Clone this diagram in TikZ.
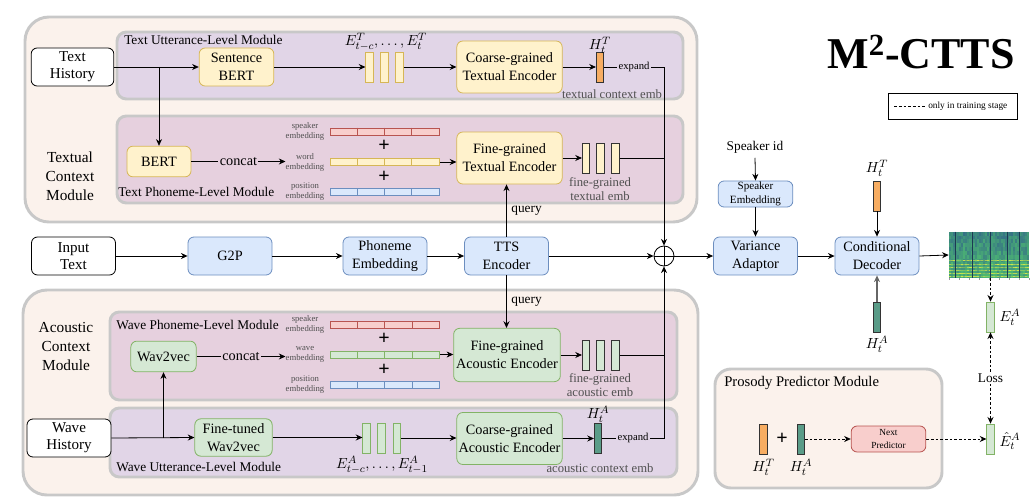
\documentclass[tikz,border=0pt]{standalone}
\usepackage{fontspec}
\setmainfont{Liberation Serif}
\usepackage{amsmath}
\usetikzlibrary{arrows.meta,positioning}
\definecolor{beige}{HTML}{FBF2EC}
\definecolor{frame}{HTML}{C8C8C8}
\definecolor{lilac}{HTML}{E1D5E7}
\definecolor{mauve}{HTML}{E6D0DE}
\definecolor{ylwfill}{HTML}{FFF2CC}
\definecolor{ylwdraw}{HTML}{D6B656}
\definecolor{bluefill}{HTML}{DAE8FC}
\definecolor{bluedraw}{HTML}{6C8EBF}
\definecolor{grnfill}{HTML}{D5E8D4}
\definecolor{grndraw}{HTML}{82B366}
\definecolor{redfill}{HTML}{F8CECC}
\definecolor{reddraw}{HTML}{B85450}
\definecolor{orng}{HTML}{F7AD62}
\definecolor{hteal}{HTML}{5A9C88}
\definecolor{embtxt}{HTML}{505050}
\definecolor{specblue}{HTML}{2F5F8A}
\definecolor{specgrn}{HTML}{4DB872}
\definecolor{specylw}{HTML}{D4E84A}
\tikzset{
box/.style={
	draw,
	rounded corners=4.5pt,
	align=center,
	inner sep=1pt,
	line width=0.6pt,
	font=\fontsize{10.7}{13.5}\selectfont
}
}
\tikzset{
ybox/.style={box, fill=ylwfill, draw=ylwdraw},
bbox/.style={box, fill=bluefill, draw=bluedraw},
gbox/.style={box, fill=grnfill, draw=grndraw},
wbox/.style={box, fill=white, draw=black, font=\fontsize{11.3}{13}\selectfont},
rowbox/.style={minimum width=63pt, minimum height=28.5pt},
enc/.style={minimum width=79pt, minimum height=39pt}
}
\tikzset{
bar/.style={
	draw=black!80,
	line width=0.5pt,
	inner sep=0pt,
	minimum width=5.6pt,
	minimum height=22.5pt
}
}
\tikzset{
emb/.style={
	draw,
	line width=0.5pt,
	inner sep=0pt,
	minimum width=82pt,
	minimum height=5.4pt
}
}
\tikzset{
module/.style={draw=frame, line width=2.2pt, rounded corners=7pt},
modlbl/.style={inner sep=0pt, anchor=west, font=\fontsize{10}{12}\selectfont},
emblbl/.style={inner sep=0pt, align=center, text=embtxt, font=\fontsize{6.5}{7.5}\selectfont},
graylbl/.style={inner sep=0pt, align=center, text=embtxt, font=\fontsize{9.5}{11}\selectfont},
mathlbl/.style={inner sep=0pt, font=\fontsize{11}{13}\selectfont},
plus/.style={inner sep=0pt, font=\fontsize{15}{15}\bfseries\selectfont},
arr/.style={-{Stealth[length=5pt,width=4.5pt]}, line width=0.6pt},
tarr/.style={arr, dash pattern=on 2pt off 1.5pt}
}

\begin{document}
\begin{tikzpicture}[x=0.75pt,y=-0.75pt]
\useasboundingbox (0,0) rectangle (1035,503);
% containers
\draw[module, fill=beige, rounded corners=18pt] (25,17) rectangle (697,222);
\draw[module, fill=lilac] (117,32) rectangle (683,99);
\draw[module, fill=mauve] (117,116) rectangle (683,203);
\draw[module, fill=beige, rounded corners=18pt] (23,290) rectangle (698,495);
\draw[module, fill=mauve] (110,312) rectangle (677,400);
\draw[module, fill=lilac] (110,408) rectangle (677,477);
\draw[module, fill=beige, rounded corners=12pt] (715,369) rectangle (942,488);
\node[modlbl] (tul) at (124,40) {Text Utterance-Level Module};
\node[modlbl] (tpl) at (118,192) {Text Phoneme-Level Module};
\node[modlbl] (wpl) at (116,325) {Wave Phoneme-Level Module};
\node[modlbl] (wul) at (116,467) {Wave Utterance-Level Module};
\node[modlbl, font=\fontsize{11}{13}\selectfont] (ppm) at (724,383) {Prosody Predictor Module};
\node[align=center, font=\fontsize{11.5}{14.25}\selectfont] (tcm) at (70,176) {Textual\\Context\\Module};
\node[align=center, font=\fontsize{11.5}{14.25}\selectfont] (acm) at (66,346) {Acoustic\\Context\\Module};

% title and legend
\node[font=\fontsize{33}{36}\bfseries\selectfont] (title) at (921,52) {M\textsuperscript{2}-CTTS};
\node[draw, line width=0.6pt, minimum width=96.75pt, minimum height=19.5pt] (legend) at (952.5,106) {};
\node[inner sep=0pt, anchor=west, font=\fontsize{7}{8}\selectfont] (legtxt) at (928,106) {only in training stage};
\draw[dash pattern=on 2pt off 1.5pt, line width=0.5pt] ([xshift=5pt]legend.west) -- ([xshift=-2pt]legtxt.west);

% textual utterance level
\node[wbox, minimum width=62pt, minimum height=28.5pt] (thist) at (72.5,67) {Text\\History};
\node[ybox, minimum width=56pt, minimum height=28.5pt] (sbert) at (236.5,67) {Sentence\\BERT};
\foreach \x [count=\i] in {369.5,384.5,399.5}
	\node[bar, fill=ylwfill, draw=ylwdraw] (et\i) at (\x,67) {};
\node[mathlbl] (etlbl) at (386,42) {$E^T_{t-c},\ldots,E^T_t$};
\node[ybox, enc] (cte) at (509.5,67) {Coarse-grained\\Textual Encoder};
\node[bar, fill=orng] (ht) at (600,67) {};
\node[mathlbl] (htlbl) at (600,45) {$H^T_t$};
\node[graylbl] (tce) at (612,94) {textual context emb};

% textual phoneme level
\node[ybox, minimum width=48pt, minimum height=23pt] (bert) at (159,161.5) {BERT};
\node[emblbl] (spkTl) at (305,131) {speaker\\embedding};
\node[emblbl] (wrdTl) at (305,162) {word\\embedding};
\node[emblbl] (posTl) at (305,192) {position\\embedding};
\foreach \nm/\y/\fc/\dc in {spkT/131.5/redfill/reddraw, wrdT/162/ylwfill/ylwdraw, posT/192/bluefill/bluedraw} {
	\node[emb, fill=\fc, draw=\dc] (\nm) at (384.5,\y) {};
	\foreach \k in {1,2,3}
		\draw[\dc, line width=0.5pt] ([xshift=\k*20.5pt]\nm.north west) -- ([xshift=\k*20.5pt]\nm.south west);
}
\node[plus] (pT1) at (384,146) {+};
\node[plus] (pT2) at (384,177) {+};
\node[ybox, enc] (fte) at (509.5,158) {Fine-grained\\Textual Encoder};
\foreach \x [count=\i] in {586,600.5,615.5}
	\node[bar, fill=ylwfill] (fe\i) at (\x,158) {};
\node[graylbl] (fte_lbl) at (600,189) {fine-grained\\textual emb};

% main row
\node[wbox, rowbox] (itext) at (73.5,256) {Input\\Text};
\node[bbox, rowbox] (g2p) at (230,256) {G2P};
\node[bbox, rowbox] (phe) at (385,256) {Phoneme\\Embedding};
\node[bbox, rowbox] (tts) at (506.5,256) {TTS\\Encoder};
\node[draw, circle, minimum size=15pt, inner sep=0pt, line width=0.6pt] (sum) at (664,256) {};
\draw[line width=0.6pt] (sum.north) -- (sum.south) (sum.west) -- (sum.east);
\node[bbox, rowbox] (va) at (755.5,256) {Variance\\Adaptor};
\node[bbox, rowbox] (cd) at (877,256) {Conditional\\Decoder};
\node[fill=specblue, inner sep=0pt, minimum width=60pt, minimum height=34.5pt] (spec) at (989,255) {};
\begin{scope}
	\clip (spec.south west) rectangle (spec.north east);
	\pgfmathsetseed{11}
	\foreach \i in {0,...,39} {
		\foreach \j in {0,...,11} {
			\pgfmathtruncatemacro\m{min(100,20+50*rnd+4*\j)}
			\fill[specgrn!\m!specblue] ([xshift=\i*1.5pt, yshift=-\j*2.875pt]spec.north west) rectangle ++(2.05,3.9);
		}
		\foreach \b in {28,32,35,38,41,44} {
			\pgfmathsetmacro\o{0.2+0.8*rnd}
			\fill[specylw, fill opacity=\o] ([xshift=\i*1.5pt, yshift=-\b*0.75pt]spec.north west) rectangle ++(2.05,1.6);
		}
	}
	\foreach \x in {7,24,42,59,71}
		\draw[specblue!60!black, line width=0.8pt] ([xshift=\x*0.75pt]spec.north west) -- ++(0,46);
\end{scope}
\foreach \k in {0,...,8}
	\draw[black!40, line width=0.3pt] ([xshift=\k*7.5pt]spec.south west) -- ++(0,2);

% right column
\node[font=\fontsize{10}{12}\selectfont] (spkid) at (755,147) {Speaker id};
\node[bbox, minimum width=56pt, minimum height=19.5pt, font=\fontsize{8.3}{10}\selectfont] (spe) at (755.5,194) {Speaker\\Embedding};
\node[bar, fill=orng] (htd) at (877,196) {};
\node[mathlbl] (htdlbl) at (877,168) {$H^T_t$};
\node[bar, fill=hteal] (had) at (877,317) {};
\node[mathlbl] (hadlbl) at (877,344) {$H^A_t$};
\node[bar, fill=grnfill, draw=grndraw] (eta) at (990.5,317) {};
\node[mathlbl] (etalbl) at (1010,317) {$E^A_t$};
\node[bar, fill=grnfill, draw=grndraw] (ehat) at (990.5,439) {};
\node[mathlbl] (ehatlbl) at (1010,441) {$\hat{E}^A_t$};

% prosody predictor
\node[bar, fill=orng] (pht) at (763.5,439) {};
\node[mathlbl] (phtlbl) at (763.5,467) {$H^T_t$};
\node[plus] (pP) at (782,439) {+};
\node[bar, fill=hteal] (pha) at (801,439) {};
\node[mathlbl] (phalbl) at (801,467) {$H^A_t$};
\node[box, fill=redfill, draw=reddraw, minimum width=56pt, minimum height=19.5pt, font=\fontsize{7}{9.5}\selectfont] (np) at (888.5,439) {Next\\Predictor};

% acoustic phoneme level
\node[gbox, minimum width=49pt, minimum height=23pt] (w2v) at (163.5,356.5) {Wav2vec};
\node[emblbl] (spkAl) at (305,324) {speaker\\embedding};
\node[emblbl] (wavAl) at (305,354) {wave\\embedding};
\node[emblbl] (posAl) at (305,385) {position\\embedding};
\foreach \nm/\y/\fc/\dc in {spkA/324.5/redfill/reddraw, wavA/354.5/grnfill/grndraw, posA/385/bluefill/bluedraw} {
	\node[emb, fill=\fc, draw=\dc] (\nm) at (385,\y) {};
	\foreach \k in {1,2,3}
		\draw[\dc, line width=0.5pt] ([xshift=\k*20.5pt]\nm.north west) -- ([xshift=\k*20.5pt]\nm.south west);
}
\node[plus] (pA1) at (384,339) {+};
\node[plus] (pA2) at (384,370) {+};
\node[gbox, minimum width=80pt, minimum height=40pt] (fae) at (507,355) {Fine-grained\\Acoustic Encoder};
\foreach \x [count=\i] in {586,600.5,615.5}
	\node[bar, fill=grnfill] (fa\i) at (\x,355) {};
\node[graylbl] (fae_lbl) at (600,385) {fine-grained\\acoustic emb};

% acoustic utterance level
\node[wbox, minimum width=63pt, minimum height=28.5pt] (whist) at (69,438) {Wave\\History};
\node[gbox, minimum width=58pt, minimum height=28pt] (ftw) at (233.5,437.5) {Fine-tuned\\Wav2vec};
\foreach \x [count=\i] in {366.5,381.5,397}
	\node[bar, fill=grnfill, draw=grndraw] (ea\i) at (\x,438) {};
\node[mathlbl] (ealbl) at (382,465) {$E^A_{t-c},\ldots,E^A_{t-1}$};
\node[gbox, enc] (cae) at (509.5,438.5) {Coarse-grained\\Acoustic Encoder};
\node[bar, fill=hteal] (ha) at (598,438) {};
\node[mathlbl] (halbl) at (598,414) {$H^A_t$};
\node[graylbl] (ace) at (600,468) {acoustic context emb};

% connectors, textual side
\draw[arr] (thist.east) -- (sbert.west);
\draw[arr] (thist.east -| bert.north) -- (bert.north);
\draw[arr] (sbert.east) -- (et1.west);
\draw[arr] (et3.east) -- (cte.west);
\draw[arr] (cte.east) -- (ht.west);
\draw[arr] (ht.east) -- node[fill=lilac, inner sep=1pt, font=\fontsize{8}{9}\selectfont] (expT) {expand} (ht.east -| sum.north) -- (sum.north);
\draw[arr] (bert.east) -- node[fill=mauve, inner sep=1pt, font=\fontsize{10.7}{12}\selectfont] (catT) {concat} (bert.east -| wrdTl.west);
\draw[arr] (wrdT.east) -- (wrdT.east -| fte.west);
\draw[arr] (fte.east) -- (fte.east -| fe1.west);
\draw[line width=0.6pt] (fe3.east) -- (fe3.east -| sum.north);
\draw[arr] (tts.north) -- node[right, font=\fontsize{10}{12}\selectfont] (qT) {query} (tts.north |- fte.south);

% connectors, main row
\draw[arr] (itext.east) -- (g2p.west);
\draw[arr] (g2p.east) -- (phe.west);
\draw[arr] (phe.east) -- (tts.west);
\draw[arr] (tts.east) -- (sum.west);
\draw[arr] (sum.east) -- (va.west);
\draw[arr] (va.east) -- (cd.west);
\draw[arr] (cd.east) -- (spec.west);
\draw[arr] (spkid.south) -- (spe.north);
\draw[arr] (spe.south) -- (va.north);
\draw[arr] (htd.south) -- (cd.north);
\draw[arr, draw=black!60, line width=1pt] (had.north) -- (cd.south);
\draw[tarr] (eta.north |- spec.south) -- (eta.north);
\draw[tarr, {Stealth[length=5pt,width=4.5pt]}-{Stealth[length=5pt,width=4.5pt]}] (eta.south) -- node[fill=white, inner sep=1pt, font=\fontsize{10}{12}\selectfont] (loss) {Loss} (ehat.north);
\draw[tarr] (pha.east) -- (np.west);
\draw[tarr] (np.east) -- (ehat.west);

% connectors, acoustic side
\draw[arr] (tts.south) -- node[right, font=\fontsize{10}{12}\selectfont] (qA) {query} (tts.south |- fae.north);
\draw[arr] (whist.east) -- (ftw.west);
\draw[arr] (whist.east -| w2v.south) -- (w2v.south);
\draw[arr] (w2v.east) -- node[fill=mauve, inner sep=1pt, font=\fontsize{10.7}{12}\selectfont] (catA) {concat} (w2v.east -| wavAl.west);
\draw[arr] (wavA.east) -- (wavA.east -| fae.west);
\draw[arr] (fae.east) -- (fae.east -| fa1.west);
\draw[line width=0.6pt] (fa3.east) -- (fa3.east -| sum.south);
\draw[arr] (ftw.east) -- (ftw.east -| ea1.west);
\draw[arr] (ea3.east) -- (ea3.east -| cae.west);
\draw[arr] (cae.east) -- (cae.east -| ha.west);
\draw[arr] (ha.east) -- node[fill=lilac, inner sep=1pt, font=\fontsize{8}{9}\selectfont] (expA) {expand} (ha.east -| sum.south) -- (sum.south);
\end{tikzpicture}
\end{document}
